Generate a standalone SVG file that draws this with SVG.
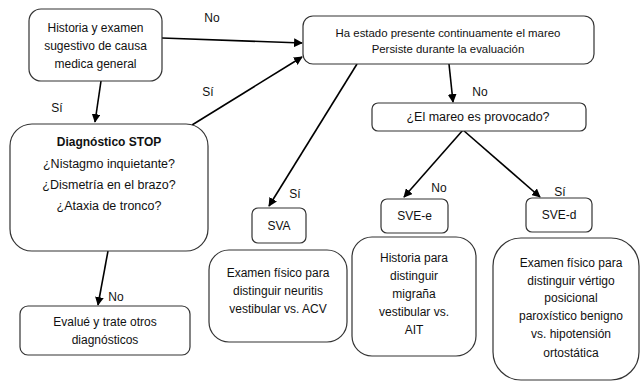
<svg xmlns="http://www.w3.org/2000/svg" width="641" height="382" viewBox="0 0 641 382">
<defs>
<marker id="ah" viewBox="0 0 10 10" refX="9" refY="5" markerWidth="5.5" markerHeight="5.5" orient="auto" markerUnits="strokeWidth">
<path d="M0,0 L10,5 L0,10 z" fill="#000"/>
</marker>
</defs>
<style>
.box{fill:#fff;stroke:#333;stroke-width:1.2}
text{font-family:"Liberation Sans",Arial,sans-serif;font-size:12px;fill:#111;text-anchor:middle}
.sm{font-size:11.4px}
.md{font-size:12.5px}
.b{font-weight:bold}
.lbl{font-size:12px}
.c{stroke:#000;stroke-width:1.6;fill:none;marker-end:url(#ah)}
</style>
<rect width="641" height="382" fill="#fff"/>
<g id="connectors">
<line class="c" x1="162" y1="38" x2="302" y2="43"/>
<line class="c" x1="192" y1="125" x2="302" y2="57"/>
<line class="c" x1="101" y1="81" x2="95" y2="122"/>
<line class="c" x1="108" y1="251" x2="98" y2="305"/>
<line class="c" x1="357" y1="64" x2="269" y2="206"/>
<line class="c" x1="449" y1="64" x2="453" y2="102"/>
<line class="c" x1="463" y1="130" x2="404" y2="197"/>
<line class="c" x1="463" y1="130" x2="540" y2="197"/>
<text class="lbl" x="212" y="22">No</text>
<text class="lbl" x="57" y="112">Sí</text>
<text class="lbl" x="208" y="96">Sí</text>
<text class="lbl" x="295" y="198">Sí</text>
<text class="lbl" x="480" y="96">No</text>
<text class="lbl" x="439" y="192">No</text>
<text class="lbl" x="560" y="196">Sí</text>
<text class="lbl" x="116" y="301">No</text>
</g>
<g id="n-historia">
<rect class="box" x="29" y="9" width="133" height="72" rx="12"/>
<text x="95.5" y="32">Historia y examen</text>
<text x="95.5" y="50">sugestivo de causa</text>
<text x="95.5" y="68">medica general</text>
</g>
<g id="n-haestado">
<rect class="box" x="303" y="16" width="291" height="48" rx="10"/>
<text class="sm" x="448" y="37">Ha estado presente continuamente el mareo</text>
<text class="sm" x="448" y="53">Persiste durante la evaluación</text>
</g>
<g id="n-provocado">
<rect class="box" x="372" y="103" width="214" height="28" rx="6"/>
<text class="md" x="478" y="121">¿El mareo es provocado?</text>
</g>
<g id="n-stop">
<rect class="box" x="10" y="124" width="198" height="127" rx="22"/>
<text class="b" x="109" y="146">Diagnóstico STOP</text>
<text class="md" x="109" y="168">¿Nistagmo inquietante?</text>
<text class="md" x="109" y="189">¿Dismetría en el brazo?</text>
<text class="md" x="109" y="210">¿Ataxia de tronco?</text>
</g>
<g id="n-evalue">
<rect class="box" x="20" y="306" width="170" height="49" rx="8"/>
<text x="105" y="326">Evalué y trate otros</text>
<text x="105" y="344">diagnósticos</text>
</g>
<g id="n-sva">
<rect class="box" x="252" y="208" width="54" height="35" rx="6"/>
<text x="279" y="230">SVA</text>
</g>
<g id="n-svee">
<rect class="box" x="381" y="199" width="67" height="34" rx="6"/>
<text x="414.5" y="220">SVE-e</text>
</g>
<g id="n-sved">
<rect class="box" x="526" y="198" width="66" height="34" rx="6"/>
<text x="559" y="219">SVE-d</text>
</g>
<g id="n-neuritis">
<rect class="box" x="209" y="250" width="138" height="92" rx="20"/>
<text x="278" y="277">Examen físico para</text>
<text x="278" y="295">distinguir neuritis</text>
<text x="278" y="313">vestibular vs. ACV</text>
</g>
<g id="n-migrana">
<rect class="box" x="352" y="237" width="124" height="119" rx="20"/>
<text x="414" y="262">Historia para</text>
<text x="414" y="280">distinguir</text>
<text x="414" y="298">migraña</text>
<text x="414" y="316">vestibular vs.</text>
<text x="414" y="334">AIT</text>
</g>
<g id="n-vertigo">
<rect class="box" x="493" y="238" width="146" height="142" rx="28"/>
<text x="571" y="267">Examen físico para</text>
<text x="571" y="285">distinguir vértigo</text>
<text x="571" y="302">posicional</text>
<text x="571" y="320">paroxístico benigno</text>
<text x="571" y="338">vs. hipotensión</text>
<text x="571" y="357">ortostática</text>
</g>
</svg>
